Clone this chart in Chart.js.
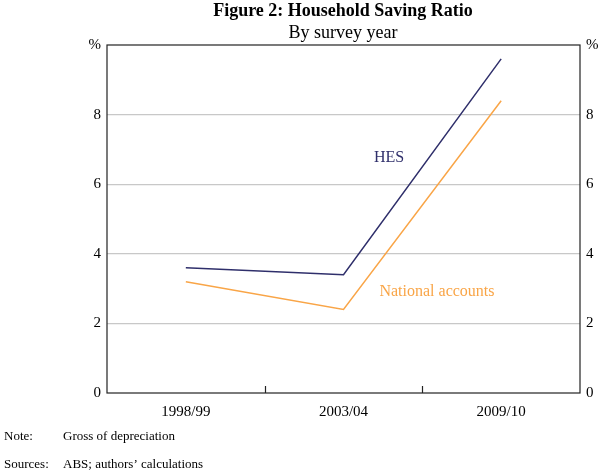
<!DOCTYPE html>
<html><head><meta charset="utf-8">
<script src="https://cdn.jsdelivr.net/npm/chart.js@4"></script>
<style>html,body{margin:0;padding:0;background:#fff}#wrap{width:600px;height:473px}</style>
</head><body><div id="wrap"><canvas id="c" width="600" height="473"></canvas></div>
<script>
const categories = ['1998/99', '2003/04', '2009/10'];
const hesValues = [3.6, 3.4, 9.6];
const nationalAccountsValues = [3.2, 2.4, 8.4];
const yTicks = [0, 2, 4, 6, 8, 10];

const NAVY = '#2f2f6b';
const ORANGE = '#f9a547';
const FONT = '"Liberation Serif", "Times New Roman", serif';

const overlay = {
  id: 'overlay',
  afterDraw(chart) {
    const ctx = chart.ctx, a = chart.chartArea, xs = chart.scales.x;
    ctx.save();
    // border
    ctx.strokeStyle = '#222'; ctx.lineWidth = 1.2;
    ctx.strokeRect(a.left, a.top, a.right - a.left, a.bottom - a.top);
    // category boundary ticks
    const half = (xs.getPixelForValue(1) - xs.getPixelForValue(0)) / 2;
    for (let i = 0; i < categories.length - 1; i++) {
      const x = Math.round(xs.getPixelForValue(i) + half) + 0.5;
      ctx.beginPath(); ctx.moveTo(x, a.bottom); ctx.lineTo(x, a.bottom - 7); ctx.stroke();
    }
    // titles
    ctx.fillStyle = '#000'; ctx.textAlign = 'center'; ctx.textBaseline = 'middle';
    ctx.font = 'bold 18px ' + FONT;
    ctx.fillText('Figure 2: Household Saving Ratio', 343, 11);
    ctx.font = '18px ' + FONT;
    ctx.fillText('By survey year', 343, 33);
    // series labels
    ctx.font = '16px ' + FONT;
    ctx.fillStyle = NAVY; ctx.fillText('HES', 389, 158);
    ctx.fillStyle = ORANGE; ctx.fillText('National accounts', 437, 292);
    // notes
    ctx.fillStyle = '#000'; ctx.textAlign = 'left'; ctx.font = '13px ' + FONT;
    ctx.fillText('Note:', 4, 437); ctx.fillText('Gross of depreciation', 63, 437);
    ctx.fillText('Sources:', 4, 465); ctx.fillText('ABS; authors\u2019 calculations', 63, 465);
    ctx.restore();
  }
};

const yTickCb = v => (v === 10 ? '%' : String(v));

new Chart(document.getElementById('c'), {
  type: 'line',
  data: {
    labels: categories,
    datasets: [
      { label: 'HES', data: hesValues, borderColor: NAVY, borderWidth: 1.5, pointRadius: 0, tension: 0, yAxisID: 'y' },
      { label: 'National accounts', data: nationalAccountsValues, borderColor: ORANGE, borderWidth: 1.5, pointRadius: 0, tension: 0, yAxisID: 'y' }
    ]
  },
  options: {
    responsive: false, animation: false, devicePixelRatio: 1,
    layout: { padding: { top: 45, left: 0, right: 0, bottom: 0 } },
    plugins: { legend: { display: false }, tooltip: { enabled: false }, title: { display: false } },
    scales: {
      x: {
        offset: true,
        grid: { display: false },
        border: { display: false },
        ticks: { color: '#000', font: { family: FONT, size: 15 }, padding: 2, maxRotation: 0 },
        afterFit(s) { s.height = 80; }
      },
      y: {
        position: 'left', min: 0, max: 10,
        afterBuildTicks(s) { s.ticks = yTicks.map(v => ({ value: v })); },
        grid: { color: ctx => (ctx.tick && (ctx.tick.value === 0 || ctx.tick.value === 10)) ? 'rgba(0,0,0,0)' : '#c8c8c8', lineWidth: 1.3, drawTicks: false },
        border: { display: false },
        ticks: { color: '#000', font: { family: FONT, size: 15 }, padding: 6, callback: yTickCb },
        afterFit(s) { s.width = 107; }
      },
      y2: {
        position: 'right', min: 0, max: 10,
        afterBuildTicks(s) { s.ticks = yTicks.map(v => ({ value: v })); },
        grid: { display: false, drawTicks: false },
        border: { display: false },
        ticks: { color: '#000', font: { family: FONT, size: 15 }, padding: 6, callback: yTickCb },
        afterFit(s) { s.width = 20; }
      }
    }
  },
  plugins: [overlay]
});
</script></body></html>
